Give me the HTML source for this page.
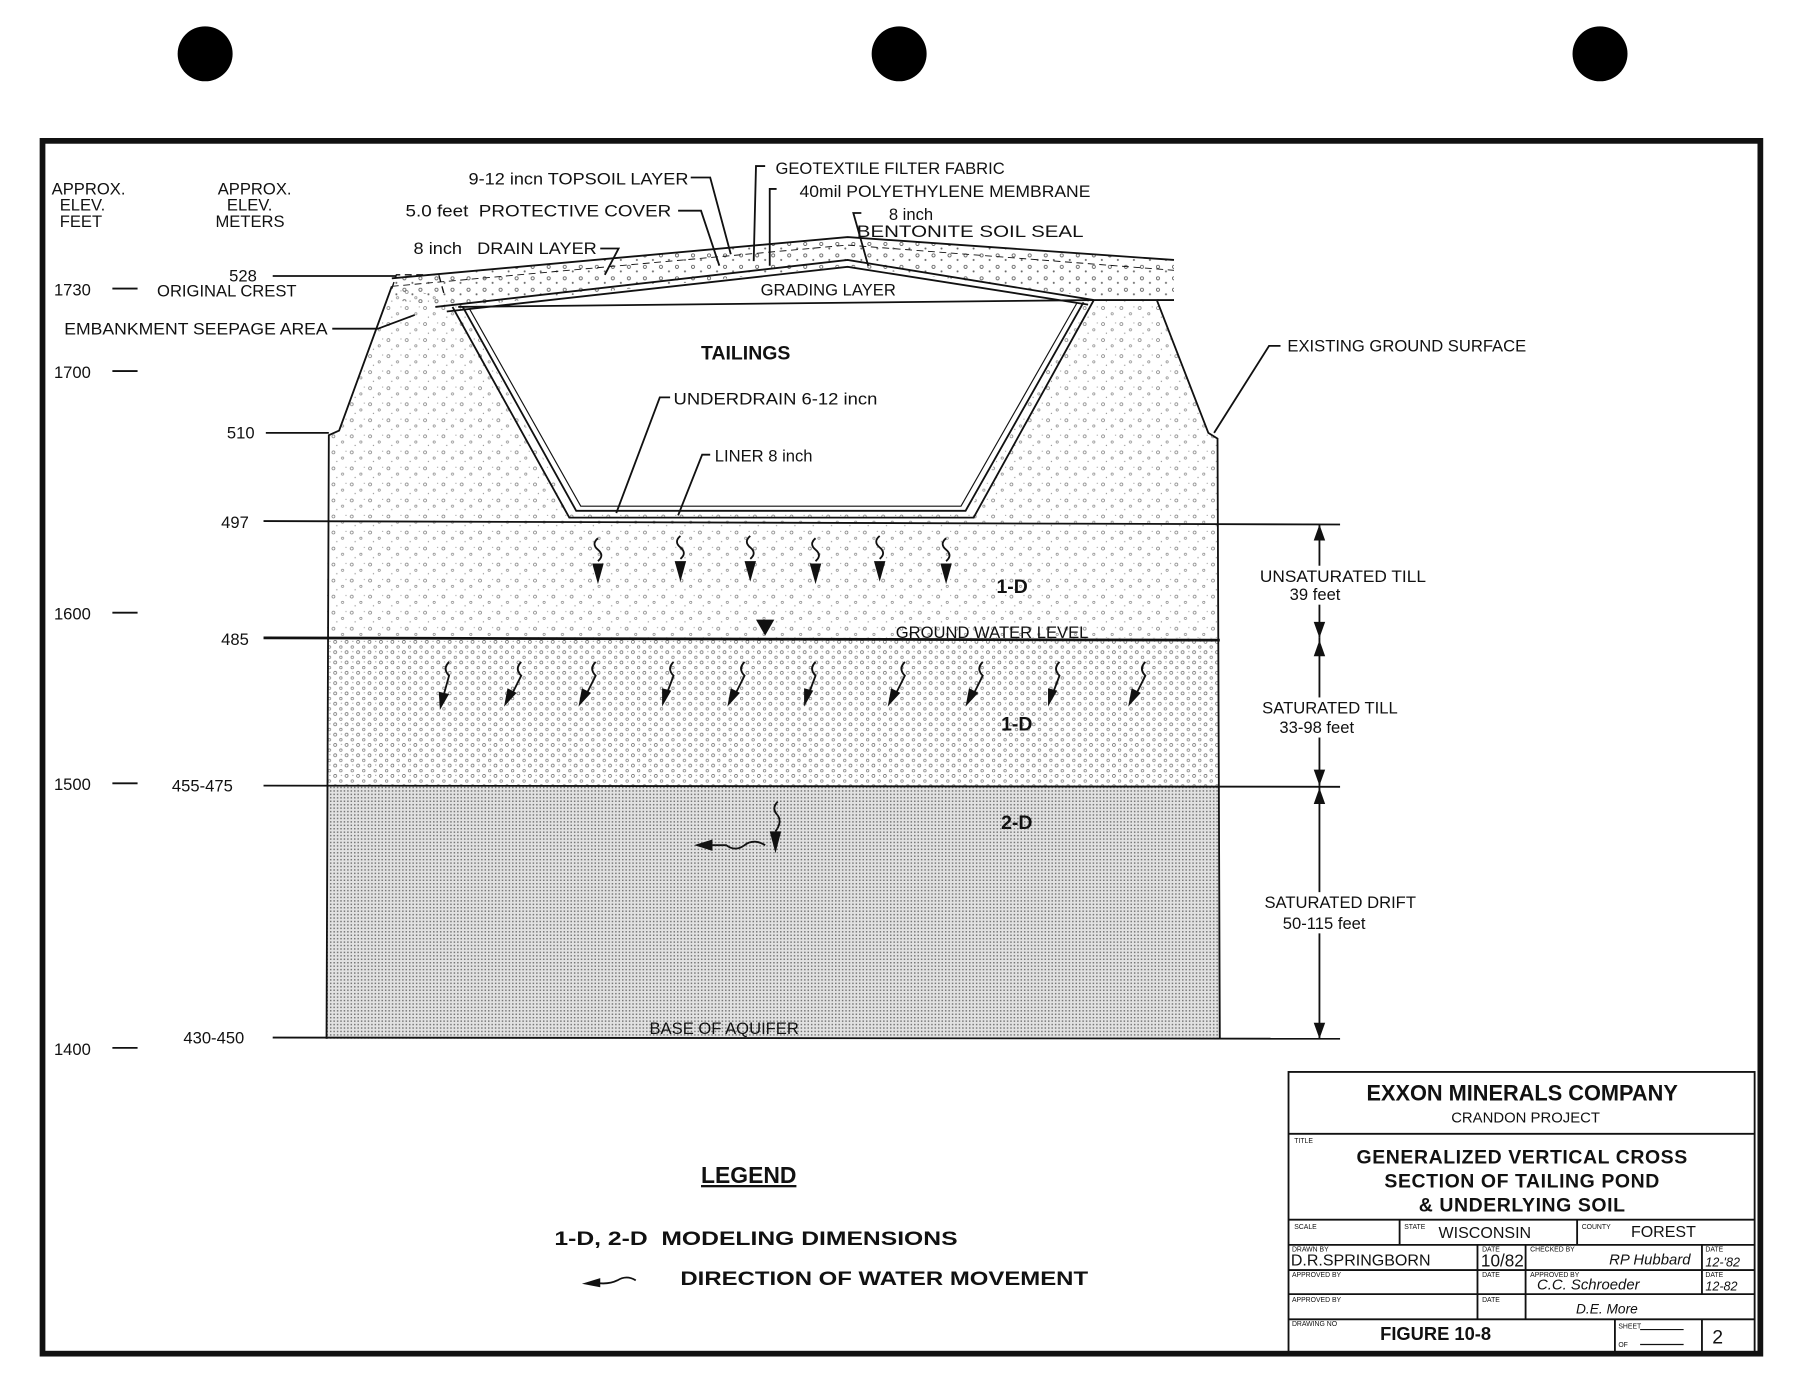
<!DOCTYPE html>
<html><head><meta charset="utf-8"><style>
html,body{margin:0;padding:0;background:#fff}
svg{display:block}
text{font-family:"Liberation Sans",sans-serif;fill:#111}
</style></head><body>
<svg width="1796" height="1380" viewBox="0 0 1568 1205" xmlns="http://www.w3.org/2000/svg">
<defs>
<pattern id="till" width="16" height="14" patternUnits="userSpaceOnUse">
<circle cx="3" cy="3" r="1.3" fill="none" stroke="#777" stroke-width="0.6"/>
<circle cx="11" cy="8" r="1" fill="none" stroke="#888" stroke-width="0.6"/>
<circle cx="6" cy="11" r="0.6" fill="#999"/>
<circle cx="14" cy="2" r="0.5" fill="#999"/>
</pattern>
<pattern id="sat" width="10" height="9" patternUnits="userSpaceOnUse">
<circle cx="2.5" cy="2.5" r="1.3" fill="none" stroke="#666" stroke-width="0.6"/>
<circle cx="7.5" cy="7" r="1.1" fill="none" stroke="#777" stroke-width="0.6"/>
<circle cx="8" cy="2" r="0.5" fill="#888"/>
</pattern>
<pattern id="drift" width="3" height="3" patternUnits="userSpaceOnUse">
<rect width="3" height="3" fill="#e2e2e2"/>
<rect x="0" y="0" width="1.3" height="1.3" fill="#777"/>
</pattern>
<pattern id="cover" width="14" height="10" patternUnits="userSpaceOnUse">
<circle cx="3" cy="3" r="1.4" fill="none" stroke="#555" stroke-width="0.7"/>
<circle cx="10" cy="7" r="0.9" fill="#666"/>
</pattern>
</defs>

<circle cx="179" cy="47" r="24" fill="#000"/>
<circle cx="785" cy="47" r="24" fill="#000"/>
<circle cx="1397" cy="47" r="24" fill="#000"/>

<rect x="37" y="123" width="1500" height="1059" fill="none" stroke="#111" stroke-width="5"/>

<rect x="285" y="686" width="780" height="221" fill="url(#drift)"/>
<rect x="285" y="557" width="780" height="129" fill="url(#sat)"/>
<path d="M287,380 L296,376 L342,250 L400,262 L500,448 L845,448 L945,262 L1010,262 L1055,378 L1063,383 L1065,557 L285,557 Z" fill="url(#till)"/>
<path d="M342,243 L740,207 L1025,227 L1025,262 L1010,262 L960,260 L740,232 L400,268 L342,262 Z" fill="url(#cover)"/>
<path d="M410,270 L500,448 L845,448 L945,265 Z" fill="#fff"/>

<g fill="none" stroke="#111" stroke-width="1.6">
<polyline points="342,250 296,376 287,380 285,907"/>
<polyline points="1010,262 1055,378 1063,383 1065,907"/>
<polyline points="342,243 740,207 1025,227"/>
<polyline points="342,250 740,214 1025,236" stroke-width="0.8" stroke-dasharray="6,4"/>
<polyline points="380,268 740,227 955,262 1025,262"/>
<polyline points="390,272 740,233 950,266"/>
<line x1="400" y1="268" x2="955" y2="262"/>
<polyline points="395,268 497,452 850,452 955,262"/>
<polyline points="404,268 503,446 843,446 946,264"/>
<polyline points="410,270 507,442 839,442 940,265" stroke-width="1"/>
<polyline points="342,252 346,240 383,240 388,258" stroke-dasharray="6,4" stroke-width="1.2"/>
<line x1="230" y1="455" x2="1170" y2="458"/>
<line x1="230" y1="557" x2="1065" y2="559" stroke-width="2.4"/>
<line x1="230" y1="686" x2="1170" y2="687"/>
<line x1="238" y1="906" x2="1170" y2="907"/>
<line x1="98" y1="252" x2="120" y2="252"/>
<line x1="98" y1="324" x2="120" y2="324"/>
<line x1="98" y1="535" x2="120" y2="535"/>
<line x1="98" y1="684" x2="120" y2="684"/>
<line x1="98" y1="915" x2="120" y2="915"/>
<line x1="238" y1="241" x2="346" y2="241"/>
<line x1="232" y1="378" x2="287" y2="378"/>
<polyline points="290,287 330,287 362,275"/>
<polyline points="603,155 620,155 638,222"/>
<polyline points="592,184 612,184 628,232"/>
<polyline points="524,217 540,217 528,240"/>
<polyline points="668,145 660,145 658,228"/>
<polyline points="678,165 672,165 672,232"/>
<polyline points="752,186 745,186 758,232"/>
<polyline points="585,347 576,347 538,448"/>
<polyline points="620,397 613,397 592,450"/>
<polyline points="1118,302 1108,302 1060,378"/>
<line x1="1152" y1="458" x2="1152" y2="557"/>
<line x1="1152" y1="557" x2="1152" y2="686"/>
<line x1="1152" y1="686" x2="1152" y2="907"/>
</g>
<g fill="#111">
<polygon points="1152,458 1147,472 1157,472"/><polygon points="1152,557 1147,543 1157,543"/>
<polygon points="1152,559 1147,573 1157,573"/><polygon points="1152,686 1147,672 1157,672"/>
<polygon points="1152,688 1147,702 1157,702"/><polygon points="1152,907 1147,893 1157,893"/>
<polygon points="660,541 676,541 668,555"/>
</g>

<g fill="none" stroke="#111" stroke-width="1.6">
<path d="M522,470 q-6,5 0,10 q6,5 0,10"/><path d="M594,468 q-6,5 0,10 q6,5 0,10"/>
<path d="M655,468 q-6,5 0,10 q6,5 0,10"/><path d="M712,470 q-6,5 0,10 q6,5 0,10"/>
<path d="M768,468 q-6,5 0,10 q6,5 0,10"/><path d="M826,470 q-6,5 0,10 q6,5 0,10"/>
<path d="M392,578 q-6,6 0,12 l-5,18"/><path d="M455,578 q-6,6 0,12 l-8,16"/>
<path d="M520,578 q-6,6 0,12 l-8,16"/><path d="M588,578 q-6,6 0,12 l-6,16"/>
<path d="M650,578 q-6,6 0,12 l-8,16"/><path d="M712,578 q-6,6 0,12 l-6,16"/>
<path d="M790,578 q-6,6 0,12 l-8,16"/><path d="M858,578 q-6,6 0,12 l-8,16"/>
<path d="M925,578 q-6,6 0,12 l-6,16"/><path d="M1000,578 q-6,6 0,12 l-8,16"/>
<path d="M679,700 q-6,6 0,12 q4,6 -2,14"/><path d="M668,738 q-10,-6 -18,0 q-8,6 -16,0 l-12,0"/>
<path d="M555,1118 q-8,-5 -16,0 q-8,4 -20,2"/>
</g>
<g fill="#111">
<polygon points="517,492 527,492 522,510"/><polygon points="589,490 599,490 594,508"/>
<polygon points="650,490 660,490 655,508"/><polygon points="707,492 717,492 712,510"/>
<polygon points="763,490 773,490 768,508"/><polygon points="821,492 831,492 826,510"/>
<polygon points="383,604 392,606 384,620"/><polygon points="443,601 451,605 440,617"/>
<polygon points="508,601 516,605 505,617"/><polygon points="578,601 586,603 578,617"/>
<polygon points="638,601 646,605 635,617"/><polygon points="702,601 710,603 702,617"/>
<polygon points="778,601 786,605 775,617"/><polygon points="846,601 854,605 843,617"/>
<polygon points="915,601 923,603 915,617"/><polygon points="988,601 996,605 985,617"/>
<polygon points="672,726 682,726 677,745"/><polygon points="622,733 622,743 606,738"/>
<polygon points="524,1116 524,1124 508,1121"/>
</g>

<g fill="#fff">
<rect x="1098" y="494" width="150" height="34"/>
<rect x="1100" y="609" width="128" height="35"/>
<rect x="1102" y="779" width="124" height="36"/>
</g>

<g font-size="14.5">
<text x="45" y="170">APPROX.</text><text x="52" y="184">ELEV.</text><text x="52" y="198">FEET</text>
<text x="190" y="170">APPROX.</text><text x="198" y="184">ELEV.</text><text x="188" y="198">METERS</text>
<text x="47" y="258">1730</text><text x="47" y="330">1700</text><text x="47" y="541">1600</text>
<text x="47" y="690">1500</text><text x="47" y="921">1400</text>
<text x="200" y="246">528</text><text x="198" y="383">510</text><text x="193" y="461">497</text>
<text x="193" y="563">485</text><text x="150" y="691">455-475</text><text x="160" y="911">430-450</text>
<text x="137" y="259">ORIGINAL CREST</text>
<text x="56" y="292" textLength="230" lengthAdjust="spacingAndGlyphs">EMBANKMENT SEEPAGE AREA</text>
<text x="409" y="161" textLength="192" lengthAdjust="spacingAndGlyphs">9-12 incn TOPSOIL LAYER</text>
<text x="354" y="189" textLength="232" lengthAdjust="spacingAndGlyphs" xml:space="preserve">5.0 feet  PROTECTIVE COVER</text>
<text x="361" y="222" textLength="160" lengthAdjust="spacingAndGlyphs" xml:space="preserve">8 inch   DRAIN LAYER</text>
<text x="677" y="152">GEOTEXTILE FILTER FABRIC</text>
<text x="698" y="172" textLength="254" lengthAdjust="spacingAndGlyphs">40mil POLYETHYLENE MEMBRANE</text>
<text x="776" y="192">8 inch</text>
<text x="748" y="207" textLength="198" lengthAdjust="spacingAndGlyphs">BENTONITE SOIL SEAL</text>
<text x="664" y="258">GRADING LAYER</text>
<text x="588" y="353" textLength="178" lengthAdjust="spacingAndGlyphs">UNDERDRAIN 6-12 incn</text>
<text x="624" y="403">LINER 8 inch</text>
<text x="1124" y="307">EXISTING GROUND SURFACE</text>
<text x="782" y="557">GROUND WATER LEVEL</text>
<text x="1100" y="508" textLength="145" lengthAdjust="spacingAndGlyphs">UNSATURATED TILL</text><text x="1126" y="524">39 feet</text>
<text x="1102" y="623">SATURATED TILL</text><text x="1117" y="640">33-98 feet</text>
<text x="1104" y="793">SATURATED DRIFT</text><text x="1120" y="811">50-115 feet</text>
<text x="567" y="903">BASE OF AQUIFER</text>
</g>
<g font-size="17" font-weight="bold">
<text x="612" y="314">TAILINGS</text>
<text x="870" y="518">1-D</text>
<text x="874" y="638">1-D</text>
<text x="874" y="724">2-D</text>
</g>
<text x="612" y="1033" font-size="20" font-weight="bold" text-decoration="underline">LEGEND</text>
<text x="484" y="1087" font-size="17" font-weight="bold" textLength="352" lengthAdjust="spacingAndGlyphs" xml:space="preserve">1-D, 2-D  MODELING DIMENSIONS</text>
<text x="594" y="1122" font-size="17" font-weight="bold" textLength="356" lengthAdjust="spacingAndGlyphs">DIRECTION OF WATER MOVEMENT</text>

<g fill="none" stroke="#111" stroke-width="1.6">
<rect x="1125" y="936" width="407" height="245"/>
<line x1="1125" y1="990" x2="1532" y2="990"/>
<line x1="1125" y1="1065" x2="1532" y2="1065"/>
<line x1="1125" y1="1087" x2="1532" y2="1087"/>
<line x1="1125" y1="1109" x2="1532" y2="1109"/>
<line x1="1125" y1="1130" x2="1532" y2="1130"/>
<line x1="1125" y1="1152" x2="1532" y2="1152"/>
<line x1="1222" y1="1065" x2="1222" y2="1087"/>
<line x1="1377" y1="1065" x2="1377" y2="1087"/>
<line x1="1290" y1="1087" x2="1290" y2="1152"/>
<line x1="1332" y1="1087" x2="1332" y2="1152"/>
<line x1="1486" y1="1087" x2="1486" y2="1130"/>
<line x1="1410" y1="1152" x2="1410" y2="1180"/>
<line x1="1486" y1="1152" x2="1486" y2="1180"/>
<line x1="1432" y1="1161" x2="1470" y2="1161" stroke-width="1"/>
<line x1="1432" y1="1174" x2="1470" y2="1174" stroke-width="1"/>
</g>
<text x="1329" y="961" font-size="19" font-weight="bold" text-anchor="middle">EXXON MINERALS COMPANY</text>
<text x="1332" y="980" font-size="13" text-anchor="middle">CRANDON PROJECT</text>
<text x="1130" y="998" font-size="6">TITLE</text>
<text x="1329" y="1016" font-size="17" font-weight="bold" text-anchor="middle" letter-spacing="0.5">GENERALIZED VERTICAL CROSS</text>
<text x="1329" y="1037" font-size="17" font-weight="bold" text-anchor="middle" letter-spacing="0.5">SECTION OF TAILING  POND</text>
<text x="1329" y="1058" font-size="17" font-weight="bold" text-anchor="middle" letter-spacing="0.5">&amp; UNDERLYING SOIL</text>
<g font-size="6">
<text x="1130" y="1073">SCALE</text><text x="1226" y="1073">STATE</text><text x="1381" y="1073">COUNTY</text>
<text x="1128" y="1093">DRAWN BY</text><text x="1294" y="1093">DATE</text><text x="1336" y="1093">CHECKED BY</text><text x="1489" y="1093">DATE</text>
<text x="1128" y="1115">APPROVED BY</text><text x="1294" y="1115">DATE</text><text x="1336" y="1115">APPROVED BY</text><text x="1489" y="1115">DATE</text>
<text x="1128" y="1137">APPROVED BY</text><text x="1294" y="1137">DATE</text>
<text x="1128" y="1158">DRAWING NO</text><text x="1413" y="1160">SHEET</text><text x="1413" y="1176">OF</text>
</g>
<text x="1256" y="1081" font-size="14">WISCONSIN</text>
<text x="1424" y="1080" font-size="14">FOREST</text>
<text x="1127" y="1105" font-size="14">D.R.SPRINGBORN</text>
<text x="1293" y="1106" font-size="15">10/82</text>
<text x="1405" y="1104" font-size="13" font-style="italic" font-family="Liberation Serif">RP Hubbard</text>
<text x="1489" y="1106" font-size="11" font-style="italic">12-'82</text>
<text x="1342" y="1126" font-size="13" font-style="italic" font-family="Liberation Serif">C.C. Schroeder</text>
<text x="1489" y="1127" font-size="11" font-style="italic">12-82</text>
<text x="1376" y="1147" font-size="12" font-style="italic" font-family="Liberation Serif">D.E. More</text>
<text x="1205" y="1170" font-size="16" font-weight="bold">FIGURE 10-8</text>
<text x="1495" y="1173" font-size="17">2</text>
</svg>
</body></html>
